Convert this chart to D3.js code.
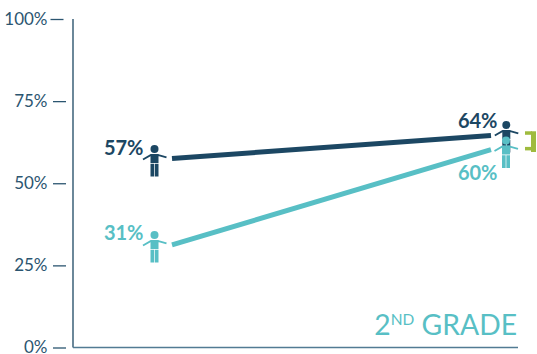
<!DOCTYPE html>
<html>
<head>
<meta charset="utf-8">
<script src="https://cdn.jsdelivr.net/npm/d3@7"></script>
<style>
  html, body { margin: 0; padding: 0; background: #fff; }
  svg { display: block; font-family: Lato, sans-serif; }
</style>
</head>
<body>
<svg id="chart" width="537" height="354"></svg>
<script>
// Share of students per group at the two measurement points
const points = ["start", "end"];
const groupA = [57, 64];
const groupB = [31, 60];
const tickValues = [0, 25, 50, 75, 100];
const gradeNumber = "2";
const gradeSuffix = "ND";
const gradeWord = " GRADE";

const navy = "#1c4763";
const teal = "#58bfc5";
const green = "#9fbb3e";
const axisInk = "#2b5570";

const svg = d3.select("#chart");
const y = d3.scaleLinear().domain([0, 100]).range([347.5, 19]);
const x = d3.scalePoint().domain(points).range([154.5, 506]);

// Vertical axis: ticks float left of the spine, separated by a gap
const axis = svg.append("g")
  .attr("transform", "translate(66,0)")
  .call(d3.axisLeft(y).tickValues(tickValues).tickFormat(d => d + "%").tickSize(13).tickPadding(5.5));
axis.select(".domain").remove();
axis.selectAll(".tick line").attr("stroke", axisInk).attr("stroke-width", 1.3);
axis.selectAll(".tick text")
  .attr("fill", axisInk)
  .attr("font-size", 17)
  .attr("font-family", "Lato, sans-serif");
axis.selectAll(".tick").filter(d => d === 100).select("line").attr("transform", "translate(-2.5,0)");

// Chart frame: spine and baseline
const frame = svg.append("g").attr("fill", "none");
frame.append("line").attr("x1", 73).attr("x2", 73).attr("y1", y(100)).attr("y2", y(0))
  .attr("stroke", navy).attr("stroke-width", 1.3);
frame.append("line").attr("x1", 73).attr("x2", 518).attr("y1", y(0)).attr("y2", y(0))
  .attr("stroke", "#527b93").attr("stroke-width", 1.3);

// Trend lines stop short of the figures at either end
const startGap = 17.5, endGap = 15;
function drawTrend(values, color, lift) {
  svg.append("line")
    .attr("x1", x("start") + startGap)
    .attr("x2", x("end") - endGap)
    .attr("y1", y(values[0]) - lift)
    .attr("y2", y(values[1]) - lift)
    .attr("stroke", color)
    .attr("stroke-width", 5);
}
drawTrend(groupA, navy, 1.8);
drawTrend(groupB, teal, 0.8);

// Small standing figure, origin at the centre of the head
function drawFigure(cx, cy, color) {
  const g = svg.append("g").attr("transform", `translate(${cx},${cy})`);
  g.append("circle").attr("r", 4).attr("fill", color);
  g.append("path").attr("d", "M-11.5,10.5 L-4,6.2 L4,6.2 L12,8.4")
    .attr("fill", "none").attr("stroke", color).attr("stroke-width", 1.9);
  g.append("path")
    .attr("d", "M-4,5 H4 V14 H-4 Z M-4,14.8 H-0.35 V27.6 H-4 Z M0.35,14.8 H4 V27.6 H0.35 Z")
    .attr("fill", color);
}
drawFigure(x("start"), 149, navy);
drawFigure(x("end") + 0.3, 125, navy);
drawFigure(x("start"), 235, teal);
drawFigure(x("end"), 140.5, teal);

// Value labels beside each figure
function drawLabel(px, py, value, color) {
  svg.append("text")
    .attr("x", px).attr("y", py)
    .attr("text-anchor", "end")
    .attr("fill", color)
    .attr("font-size", 20)
    .attr("font-weight", 700)
    .text(value + "%");
}
drawLabel(143.5, 154.5, groupA[0], navy);
drawLabel(497.5, 127.5, groupA[1], navy);
drawLabel(143.5, 239.5, groupB[0], teal);
drawLabel(497.5, 180, groupB[1], teal);

// Bracket marking the remaining gap between the groups: heavier spine, lighter arms
const bracket = svg.append("g").attr("fill", green);
bracket.append("rect").attr("x", 531).attr("y", y(66) + 0.6).attr("width", 5).attr("height", 20.7);
bracket.append("rect").attr("x", 525).attr("y", y(66) + 0.6).attr("width", 7).attr("height", 3.5);
bracket.append("rect").attr("x", 525).attr("y", y(60) - 3.5).attr("width", 7).attr("height", 3.5);

// Grade caption, lower right
const caption = svg.append("text")
  .attr("x", 517).attr("y", 335)
  .attr("text-anchor", "end")
  .attr("fill", teal)
  .attr("font-size", 28.3);
caption.append("tspan").text(gradeNumber);
caption.append("tspan").attr("font-size", 15.5).attr("dy", -10).text(gradeSuffix);
caption.append("tspan").attr("dy", 10).text(gradeWord);
</script>
</body>
</html>
